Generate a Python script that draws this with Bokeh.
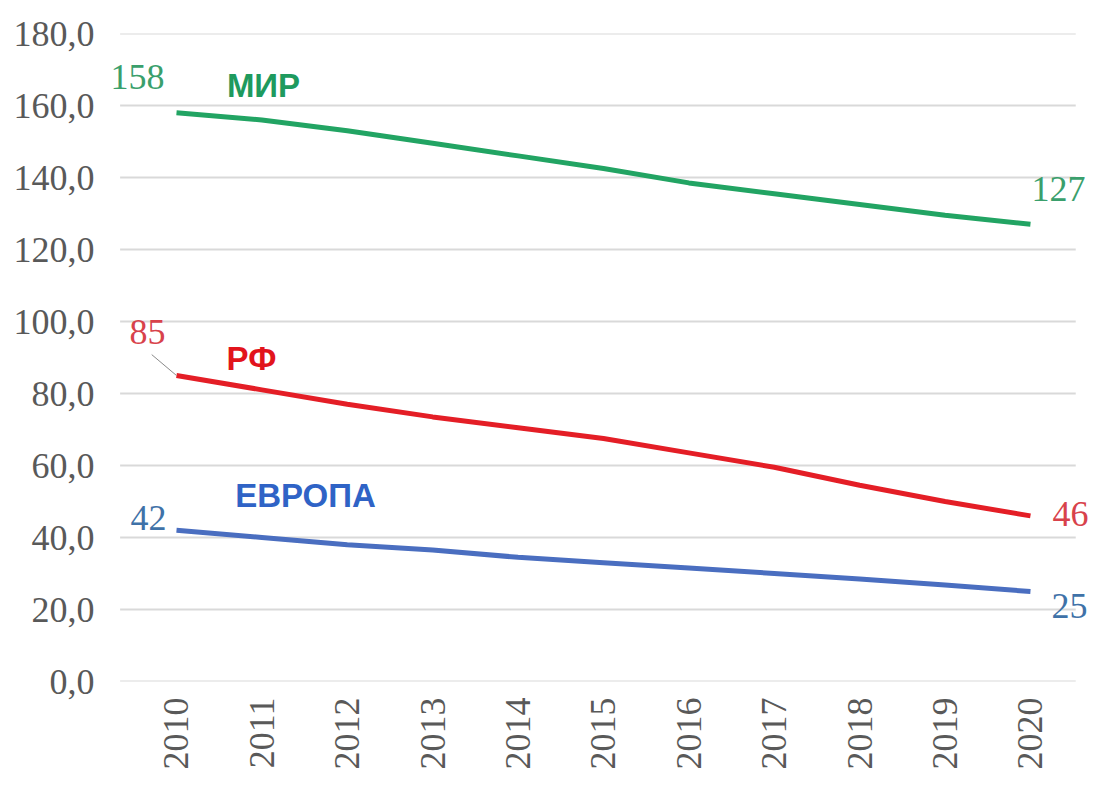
import math
from bokeh.plotting import figure
from bokeh.models import FixedTicker, Label, Range1d
from bokeh.embed import file_html
from bokeh.resources import INLINE

years = [2010, 2011, 2012, 2013, 2014, 2015, 2016, 2017, 2018, 2019, 2020]
mir = [158, 156, 153, 149.5, 146, 142.5, 138.5, 135.5, 132.5, 129.5, 127]
rf = [85, 81, 77, 73.5, 70.5, 67.5, 63.5, 59.5, 54.5, 50, 46]
europe = [42, 40, 38, 36.5, 34.5, 33, 31.5, 30, 28.5, 26.8, 25]
y_ticks = [0, 20, 40, 60, 80, 100, 120, 140, 160, 180]
series_names = ["МИР", "РФ", "ЕВРОПА"]

GREEN = "#22a463"
RED = "#e41e26"
BLUE = "#4a6ec0"

p = figure(width=1090, height=785, output_backend="svg", toolbar_location=None,
           x_range=Range1d(2009.157, 2020.703), y_range=Range1d(0, 180),
           min_border_left=104, min_border_right=0, min_border_top=33, min_border_bottom=104)
p.outline_line_color = None
p.background_fill_color = "white"
p.border_fill_color = "white"

# axes
p.xaxis.ticker = FixedTicker(ticks=years)
p.xaxis.major_label_orientation = math.pi / 2
p.yaxis.ticker = FixedTicker(ticks=y_ticks)
p.yaxis.major_label_overrides = {v: f"{v:.1f}".replace(".", ",") for v in y_ticks}
for ax in (p.xaxis, p.yaxis):
    ax.axis_line_color = None
    ax.major_tick_line_color = None
    ax.minor_tick_line_color = None
    ax.major_label_text_font = "Liberation Serif"
    ax.major_label_text_font_size = "36px"
    ax.major_label_text_color = "#595959"
p.yaxis.major_label_standoff = 4
p.xaxis.major_label_standoff = 10

p.xgrid.grid_line_color = None
p.ygrid.grid_line_color = None

# horizontal gridlines spanning the plot area
grid_x0 = 2009.34
grid_x1 = 2020.53
p.segment(x0=[grid_x0] * len(y_ticks), y0=y_ticks, x1=[grid_x1] * len(y_ticks), y1=y_ticks,
          line_color="#d9d9d9", line_width=2)

p.line(years, mir, line_color=GREEN, line_width=5)
p.line(years, rf, line_color=RED, line_width=5)
p.line(years, europe, line_color=BLUE, line_width=5)

# leader line for РФ first value
p.segment(x0=[years[0] - 0.29], y0=[rf[0] + 5.8], x1=[years[0]], y1=[rf[0]],
          line_color="#8a8a8a", line_width=1)

def num(x, y, text, color, dx, dy):
    p.add_layout(Label(x=x, y=y, text=text, x_offset=dx, y_offset=dy,
                       text_align="center", text_baseline="middle",
                       text_font="Liberation Serif", text_font_size="36px",
                       text_color=color))

def name(x, y, text, color, dx, dy):
    p.add_layout(Label(x=x, y=y, text=text, x_offset=dx, y_offset=dy,
                       text_align="center", text_baseline="middle",
                       text_font="Liberation Sans", text_font_size="33px",
                       text_font_style="bold", text_color=color))

num(years[0], mir[0], str(mir[0]), "#3a9f6c", -39, 36)
num(years[-1], mir[-1], str(mir[-1]), "#3a9f6c", 28, 35)
num(years[0], rf[0], str(rf[0]), "#d8424b", -29, 44)
num(years[-1], rf[-1], str(rf[-1]), "#d8424b", 40, 2)
num(years[0], europe[0], str(europe[0]), "#3f72a8", -28, 12)
num(years[-1], europe[-1], str(europe[-1]), "#3f72a8", 39, -14)

name(years[0], mir[0], series_names[0], "#1e9a5e", 87, 27)
name(years[0], rf[0], series_names[1], "#e2141c", 75, 17)
name(years[0], europe[0], series_names[2], "#2f63c6", 129, 35)

open("out.html", "w").write(file_html(p, INLINE))
